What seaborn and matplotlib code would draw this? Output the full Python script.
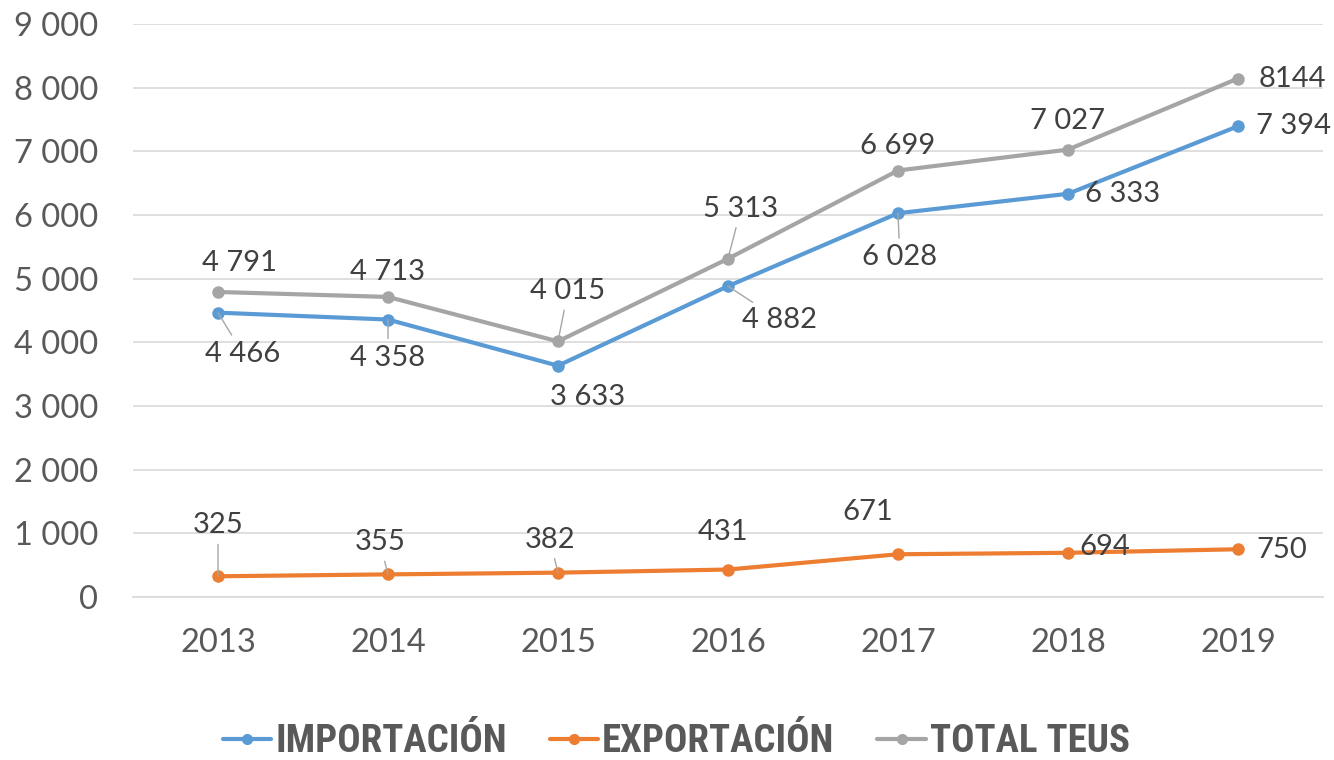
import pandas as pd
import numpy as np
import matplotlib.pyplot as plt
import seaborn as sns
from matplotlib import font_manager
from matplotlib.ticker import FuncFormatter
from matplotlib.lines import Line2D

# --- Data ---
years = [2013, 2014, 2015, 2016, 2017, 2018, 2019]
importacion = [4466, 4358, 3633, 4882, 6028, 6333, 7394]
exportacion = [325, 355, 382, 431, 671, 694, 750]
total_teus = [4791, 4713, 4015, 5313, 6699, 7027, 8144]
series_names = ['IMPORTACIÓN', 'EXPORTACIÓN', 'TOTAL TEUS']
colors = ['#5B9BD5', '#ED7D31', '#A5A5A5']

# label offsets in pixels (dx, dy) and whether a leader line is drawn
imp_offsets = [(25, -41, True), (0, -38, True), (30, -31, False), (52, -34, True),
               (2, -44, True), (55, 0, False), (56, 0, False)]
exp_offsets = [(0, 51, True), (-8, 32, True), (-8, 33, True), (-5, 38, False),
               (-30, 42, False), (37, 6, False), (44, -1, False)]
tot_offsets = [(22, 29, False), (0, 25, False), (10, 50, True), (13, 50, True),
               (0, 25, False), (0, 29, False), (54, 0, False)]


def fmt_num(v):
    return f"{v:,.0f}".replace(',', ' ')


def pick_narrow_font():
    # legend uses a condensed bold face; take whatever narrow family is installed
    names = sorted({f.name for f in font_manager.fontManager.ttflist})
    for key in ['Liberation Sans Narrow', 'DejaVu Sans Condensed', 'Roboto Condensed',
                'Open Sans Condensed', 'Noto Sans Condensed']:
        if key in names:
            return key, None
    for f in font_manager.fontManager.ttflist:
        if 'condensed' in str(f.stretch) and 'Sans' in f.name:
            return f.name, f.stretch
    return 'DejaVu Sans', None


df = pd.DataFrame({
    'year': years * 3,
    'value': importacion + exportacion + total_teus,
    'serie': sum([[n] * len(years) for n in series_names], []),
})
df['pos'] = df['year'].map({y: i for i, y in enumerate(years)})

sns.set_style('white')
plt.rcParams['font.family'] = ['Lato', 'DejaVu Sans']

fig = plt.figure(figsize=(13.34, 7.6), dpi=100)
ax = fig.add_axes([0.0997, 0.2145, 0.892, 0.7539])

sns.lineplot(data=df, x='pos', y='value', hue='serie', hue_order=series_names,
             palette=colors, marker='o', markersize=9, markeredgewidth=0,
             linewidth=3, ax=ax, legend=False)

ax.set_xlim(-0.5, len(years) - 0.5)
ax.set_ylim(0, 9000)
ax.set_yticks(np.arange(0, 9001, 1000))
ax.set_xticks(range(len(years)))
ax.set_xticklabels([str(y) for y in years])
ax.yaxis.set_major_formatter(FuncFormatter(lambda v, p: fmt_num(v)))
ax.tick_params(axis='both', length=0, labelsize=23.5, colors='#595959')
ax.tick_params(axis='x', pad=22)
ax.tick_params(axis='y', pad=25)
ax.set_xlabel('')
ax.set_ylabel('')
ax.grid(axis='y', color='#D9D9D9', linewidth=1.2)
for s in ['top', 'right', 'left']:
    ax.spines[s].set_visible(False)
ax.spines['bottom'].set_color('#D9D9D9')
ax.spines['bottom'].set_linewidth(1.2)


def add_labels(values, offsets, override=None):
    for i, (v, (dx, dy, lead)) in enumerate(zip(values, offsets)):
        txt = fmt_num(v)
        if override and i in override:
            txt = override[i]
        arrow = dict(arrowstyle='-', color='#A6A6A6', lw=1, shrinkA=2, shrinkB=0) if lead else None
        ax.annotate(txt, xy=(i, v), xytext=(dx, dy), textcoords='offset pixels',
                    ha='center', va='center', fontsize=21, color='#404040',
                    arrowprops=arrow)


add_labels(importacion, imp_offsets)
add_labels(exportacion, exp_offsets)
add_labels(total_teus, tot_offsets, override={6: str(total_teus[6])})

narrow, stretch = pick_narrow_font()
leg_prop = dict(family=[narrow, 'DejaVu Sans'], weight='bold', size=28)
if stretch is not None:
    leg_prop['stretch'] = stretch
handles = [Line2D([0], [0], color=c, lw=3, marker='o', markersize=7) for c in colors]
leg = fig.legend(handles, series_names, loc='center', bbox_to_anchor=(0.507, 0.024),
                 ncol=3, frameon=False, handlelength=1.25, handletextpad=0.1,
                 columnspacing=1.1, prop=leg_prop)
for t in leg.get_texts():
    t.set_color('#595959')

fig.savefig('out.png', dpi=100)
